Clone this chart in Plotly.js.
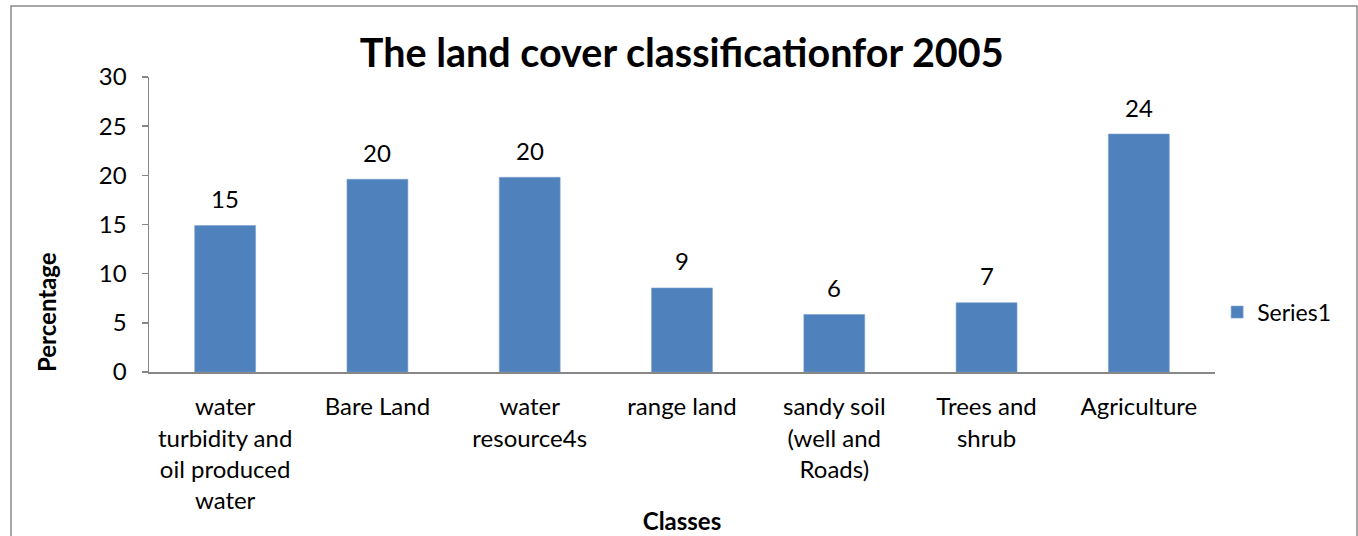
<!DOCTYPE html>
<html>
<head>
<meta charset="utf-8">
<script src="https://cdn.plot.ly/plotly-3.0.1.min.js"></script>
<style>
html,body{margin:0;padding:0;background:#fff;}
#chart{width:1358px;height:536px;}
</style>
</head>
<body>
<div id="chart"></div>
<script>
var categories = [
  "water<br>turbidity and<br>oil produced<br>water",
  "Bare Land",
  "water<br>resource4s",
  "range land",
  "sandy soil<br>(well and<br>Roads)",
  "Trees and<br>shrub",
  "Agriculture"
];
var values = [14.9, 19.6, 19.8, 8.55, 5.85, 7.05, 24.2];
var seriesName = "Series1";
var yTicks = [0, 5, 10, 15, 20, 25, 30];

var FONT = "Lato, 'Open Sans', sans-serif";

var trace = {
  type: "bar",
  x: categories,
  y: values,
  name: seriesName,
  marker: {color: "#4F81BD", line: {color: "#7FA3CF", width: 0.6}},
  hoverinfo: "x+y"
};

var labelAnnotations = values.map(function (v, i) {
  return {
    x: categories[i], y: v, xref: "x", yref: "y",
    text: String(Math.round(v)),
    showarrow: false, yanchor: "middle", yshift: 27,
    font: {family: FONT, size: 24, color: "#000"}
  };
});

var layout = {
  width: 1358, height: 536,
  margin: {l: 149, r: 143, t: 77, b: 164},
  paper_bgcolor: "#fff", plot_bgcolor: "#fff",
  font: {family: FONT, color: "#000"},
  title: {
    text: "<b>The land cover classificationfor 2005</b>",
    font: {family: FONT, size: 39.5, color: "#000"},
    x: 0.502, xanchor: "center", y: 0.9, yanchor: "middle", yref: "container"
  },
  bargap: 0.6,
  showlegend: true,
  legend: {
    x: 1.002, xanchor: "left", y: 0.203, yanchor: "middle",
    font: {family: FONT, size: 23, color: "#000"},
    itemwidth: 30
  },
  xaxis: {
    type: "category",
    showline: true, linecolor: "#878787", linewidth: 1.5,
    ticks: "", showgrid: false, zeroline: false,
    tickfont: {family: FONT, size: 24, color: "#000"},
    tickangle: 0, ticklabelstandoff: 13,
    automargin: false,
    title: {text: "<b>Classes</b>", font: {family: FONT, size: 24, color: "#000"}, standoff: 0}
  },
  yaxis: {
    range: [0, 30], tickvals: yTicks, ticktext: yTicks.map(String),
    showline: true, linecolor: "#878787", linewidth: 1.5,
    ticks: "outside", ticklen: 6, tickcolor: "#878787", tickwidth: 1.5,
    showgrid: false, zeroline: false,
    tickfont: {family: FONT, size: 24, color: "#000"},
    ticklabelstandoff: 10,
    automargin: false
  },
  annotations: labelAnnotations.concat([
    {
      text: "<b>Percentage</b>", xref: "paper", yref: "paper",
      x: (46 - 149) / 1066, y: (372 - 312) / 295,
      xanchor: "center", yanchor: "middle", textangle: -90, showarrow: false,
      font: {family: FONT, size: 24, color: "#000"}
    }
  ]),
  shapes: [{
    type: "rect", xref: "paper", yref: "paper",
    x0: (11 - 149) / 1066, x1: (1357 - 149) / 1066,
    y0: (372 - 545) / 295, y1: (372 - 6) / 295,
    line: {color: "#8A8A8A", width: 1.5}, fillcolor: "rgba(0,0,0,0)", layer: "below"
  }]
};

Plotly.newPlot("chart", [trace], layout, {displayModeBar: false, staticPlot: true});
</script>
</body>
</html>
